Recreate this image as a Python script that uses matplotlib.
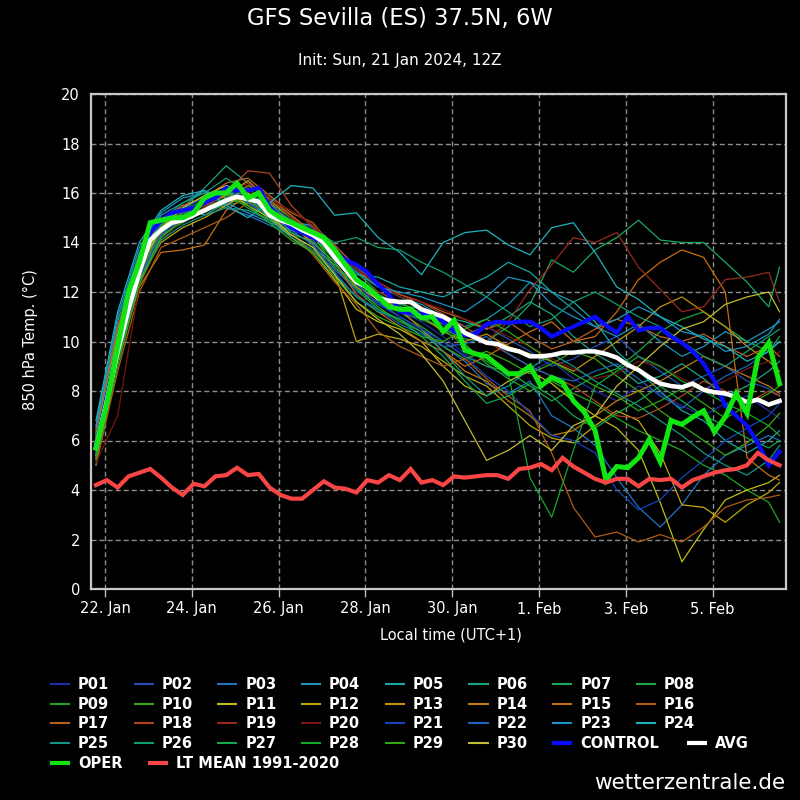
import matplotlib
matplotlib.use("Agg")
import matplotlib.pyplot as plt
from matplotlib.lines import Line2D

# ---------------- data ----------------
lead_hours = list(range(6, 385, 6))              # main series, 6-hourly
pert_hours = list(range(6, 379, 12)) + [384]     # perturbations, 12-hourly

tick_days = [0, 2, 4, 6, 8, 10, 12, 14]
tick_labels = ["22. Jan", "24. Jan", "26. Jan", "28. Jan", "30. Jan", "1. Feb", "3. Feb", "5. Feb"]

control = [5.8, 7.8, 9.8, 11.6, 13.0, 14.4, 14.9, 15.2,
           15.3, 15.4, 15.6, 15.8, 16.2, 16.1, 16.1, 16.2,
           15.45, 15.0, 14.6, 14.4, 14.2, 14.0, 13.6, 13.3,
           13.1, 12.8, 12.3, 11.9, 11.2, 11.15, 11.1, 11.15,
           10.8, 10.4, 10.25, 10.3, 10.7, 10.8, 10.75, 10.8,
           10.8, 10.55, 10.2, 10.4, 10.6, 10.8, 11.0, 10.65,
           10.35, 11.0, 10.45, 10.55, 10.55, 10.2, 9.95, 9.6,
           9.1, 8.4, 7.4, 7.0, 6.6, 5.9, 5.0, 5.55]

avg = [5.7, 7.6, 9.6, 11.3, 12.8, 14.1, 14.5, 14.8,
       14.9, 15.1, 15.3, 15.5, 15.7, 15.85, 15.75, 15.65,
       15.1, 14.9, 14.75, 14.5, 14.3, 14.0, 13.4, 12.9,
       12.4, 12.2, 11.75, 11.65, 11.6, 11.6, 11.3, 11.15,
       11.0, 10.75, 10.35, 10.15, 9.95, 9.9, 9.7, 9.6,
       9.4, 9.4, 9.45, 9.55, 9.55, 9.6, 9.6, 9.5,
       9.35, 9.05, 8.85, 8.55, 8.3, 8.2, 8.15, 8.3,
       8.05, 7.95, 7.9, 7.75, 7.55, 7.65, 7.45, 7.6]

oper = [5.7, 7.5, 9.8, 12.0, 13.2, 14.8, 14.9, 15.0,
        15.0, 15.2, 15.8, 16.0, 16.0, 16.4, 15.8, 16.0,
        15.3, 15.0, 14.8, 14.6, 14.4, 14.2, 13.7, 13.1,
        12.5, 12.2, 11.8, 11.4, 11.3, 11.3, 10.95, 11.0,
        10.4, 10.85, 9.65, 9.5, 9.4, 9.05, 8.7, 8.7,
        9.0, 8.2, 8.55, 8.35, 7.6, 7.15, 6.4, 4.4,
        4.95, 4.9, 5.3, 6.05, 5.15, 6.8, 6.65, 6.95,
        7.2, 6.35, 6.95, 7.9, 7.1, 9.35, 9.95, 8.3]

lt_mean = [4.2, 4.4, 4.1, 4.55, 4.7, 4.85, 4.5, 4.1,
           3.8, 4.25, 4.15, 4.55, 4.6, 4.9, 4.6, 4.65,
           4.1, 3.8, 3.65, 3.65, 4.0, 4.35, 4.1, 4.05,
           3.9, 4.4, 4.3, 4.6, 4.4, 4.85, 4.3, 4.4,
           4.2, 4.55, 4.5, 4.55, 4.6, 4.6, 4.45, 4.85,
           4.9, 5.05, 4.8, 5.3, 4.95, 4.7, 4.45, 4.3,
           4.45, 4.45, 4.15, 4.45, 4.4, 4.45, 4.1, 4.4,
           4.55, 4.7, 4.8, 4.85, 5.0, 5.5, 5.2, 5.0]

p01 = [5.9, 10.0, 13.0, 14.6, 15.2, 15.5, 15.9, 15.6, 15.0, 14.4, 14.0, 13.0, 12.0, 11.5, 11.2, 10.8, 10.2, 9.5, 9.0, 8.6, 8.8, 9.2, 8.5, 8.0, 7.6, 8.2, 7.9, 7.4, 7.0, 7.5, 7.8, 7.2, 6.9]
p02 = [6.2, 10.4, 13.4, 15.0, 15.3, 15.9, 16.3, 15.9, 15.4, 14.9, 14.6, 13.8, 12.6, 11.9, 11.4, 11.2, 10.8, 10.3, 10.6, 10.1, 9.6, 9.0, 9.3, 9.8, 10.2, 9.4, 8.8, 8.2, 8.6, 9.0, 8.4, 8.1, 7.8]
p03 = [5.5, 9.5, 12.6, 14.2, 15.0, 15.7, 15.4, 15.1, 14.7, 14.3, 14.1, 12.9, 12.1, 11.6, 11.0, 10.5, 9.8, 9.2, 8.3, 7.9, 8.4, 7.0, 6.5, 5.8, 4.5, 3.3, 2.5, 3.4, 4.6, 5.4, 5.8, 6.2, 6.0]
p04 = [6.5, 10.8, 13.6, 15.1, 15.6, 16.1, 15.8, 16.2, 15.5, 14.8, 14.7, 13.9, 13.0, 12.3, 11.8, 11.5, 11.0, 10.6, 10.9, 11.5, 12.4, 12.0, 11.3, 10.6, 10.2, 10.7, 10.0, 9.4, 9.8, 10.4, 10.0, 10.5, 10.8]
p05 = [5.8, 9.9, 13.1, 14.7, 15.5, 15.1, 15.6, 15.8, 15.2, 14.6, 14.5, 13.5, 12.7, 12.6, 12.2, 12.0, 11.8, 12.2, 12.6, 13.2, 12.8, 12.0, 11.6, 10.8, 9.6, 8.8, 8.0, 7.2, 6.8, 6.0, 5.5, 6.0, 6.4]
p06 = [5.2, 9.2, 12.9, 14.5, 15.4, 16.2, 17.1, 16.4, 15.6, 15.0, 14.2, 13.5, 12.5, 11.9, 11.5, 11.3, 11.0, 10.8, 10.5, 11.0, 11.6, 11.1, 10.2, 9.5, 9.0, 8.3, 8.6, 9.1, 8.5, 7.8, 8.2, 8.8, 9.2]
p07 = [6.0, 10.2, 13.3, 14.8, 15.4, 15.8, 16.0, 15.4, 14.9, 14.3, 13.8, 13.1, 12.3, 11.7, 11.2, 10.9, 10.5, 10.1, 10.0, 10.6, 11.5, 13.3, 12.8, 13.7, 14.2, 14.9, 14.1, 14.0, 14.0, 13.2, 12.4, 11.4, 13.0]
p08 = [5.0, 9.0, 12.4, 14.3, 14.8, 15.3, 15.5, 15.7, 14.9, 14.6, 14.2, 13.3, 12.4, 11.8, 11.2, 10.6, 10.0, 9.4, 9.0, 8.8, 8.2, 7.6, 8.1, 8.6, 8.9, 9.6, 10.4, 10.9, 11.2, 10.6, 10.0, 9.6, 10.2]
p09 = [5.6, 9.6, 12.7, 14.4, 15.0, 15.4, 15.8, 15.6, 15.3, 14.7, 14.4, 13.6, 12.8, 12.0, 11.6, 11.1, 10.7, 9.9, 9.1, 8.5, 8.0, 8.4, 7.9, 7.5, 6.9, 6.4, 6.0, 5.6, 5.0, 4.6, 4.0, 3.5, 2.7]
p10 = [6.1, 10.1, 13.0, 14.9, 15.1, 15.6, 15.9, 16.0, 15.4, 14.5, 14.3, 13.0, 12.2, 11.4, 10.8, 10.4, 9.8, 9.3, 9.6, 9.2, 8.7, 9.1, 9.6, 9.3, 8.6, 8.0, 7.2, 6.6, 6.0, 5.4, 5.9, 6.6, 7.1]
p11 = [5.4, 9.4, 12.8, 14.6, 15.2, 15.6, 16.1, 15.5, 15.0, 14.2, 13.6, 12.5, 11.3, 10.8, 10.5, 10.0, 9.0, 8.2, 7.8, 8.4, 8.8, 8.3, 7.6, 7.0, 6.5, 5.6, 3.5, 1.1, 2.4, 3.6, 4.0, 4.3, 4.6]
p12 = [5.7, 9.7, 12.5, 14.0, 14.6, 15.0, 15.5, 16.0, 15.2, 14.8, 13.9, 12.8, 10.0, 10.3, 10.1, 9.8, 9.2, 8.6, 8.2, 7.4, 6.6, 6.1, 5.9, 6.6, 7.2, 6.8, 5.5, 3.4, 3.3, 2.7, 3.4, 3.9, 4.3]
p13 = [6.3, 10.5, 13.2, 14.6, 15.1, 15.5, 15.9, 16.5, 15.7, 15.0, 14.3, 13.4, 12.2, 11.7, 11.4, 11.0, 10.4, 10.0, 10.3, 9.8, 9.5, 9.2, 8.8, 9.4, 10.0, 10.6, 11.4, 11.8, 11.2, 10.6, 9.8, 9.2, 8.8]
p14 = [5.9, 9.8, 12.9, 14.4, 15.0, 15.2, 15.7, 16.3, 15.8, 15.1, 14.4, 13.5, 12.6, 11.8, 11.3, 10.5, 9.6, 8.8, 8.4, 7.6, 7.0, 6.2, 6.4, 7.0, 7.6, 8.0, 8.4, 8.9, 9.4, 9.0, 8.6, 8.2, 7.9]
p15 = [5.3, 9.3, 12.2, 13.6, 13.7, 13.9, 15.3, 15.9, 15.6, 14.7, 14.0, 13.2, 11.9, 11.2, 10.6, 10.0, 9.6, 9.0, 9.4, 9.9, 10.4, 10.8, 10.0, 10.2, 11.2, 12.5, 13.2, 13.7, 13.4, 12.0, 5.3, 4.6, 4.4]
p16 = [5.0, 8.8, 12.0, 13.8, 14.2, 14.6, 15.0, 15.6, 15.3, 14.4, 13.5, 12.4, 11.5, 10.4, 9.8, 9.4, 9.0, 9.3, 8.5, 7.8, 7.2, 5.5, 3.3, 2.1, 2.3, 1.9, 2.2, 1.9, 2.5, 3.3, 3.6, 3.7, 3.8]
p17 = [6.4, 10.6, 13.5, 14.9, 15.5, 15.8, 16.4, 16.6, 15.9, 15.2, 14.8, 13.7, 12.9, 12.2, 11.9, 11.6, 11.2, 10.9, 10.5, 10.8, 10.2, 9.7, 10.0, 10.5, 10.9, 10.6, 10.2, 10.0, 10.3, 9.8, 9.4, 9.8, 9.4]
p18 = [5.6, 9.5, 12.7, 14.5, 15.0, 15.4, 16.0, 16.9, 16.8, 15.5, 14.6, 13.9, 13.0, 12.4, 11.9, 11.6, 11.1, 10.6, 10.0, 9.5, 9.0, 8.6, 8.2, 7.6, 7.0, 6.9, 7.3, 7.8, 8.4, 8.0, 7.5, 8.0, 7.8]
p19 = [5.8, 9.7, 12.9, 14.4, 15.3, 15.5, 16.0, 16.4, 15.8, 15.0, 14.4, 13.6, 12.5, 12.0, 11.6, 11.4, 11.0, 10.4, 10.0, 10.8, 12.1, 13.1, 14.2, 14.0, 14.4, 13.0, 12.1, 11.2, 11.4, 12.5, 12.6, 12.8, 11.6]
p20 = [5.1, 7.0, 12.3, 14.1, 14.9, 15.4, 15.6, 16.1, 15.7, 15.3, 14.7, 13.8, 12.9, 12.4, 11.8, 11.6, 11.3, 10.9, 10.6, 10.2, 9.8, 9.3, 8.9, 8.5, 8.7, 9.2, 9.0, 8.5, 8.1, 8.4, 8.9, 9.2, 9.6]
p21 = [6.0, 10.1, 13.1, 14.8, 15.4, 15.8, 16.1, 15.8, 15.3, 14.6, 14.4, 13.4, 12.3, 11.5, 11.0, 10.5, 10.0, 9.4, 8.6, 8.0, 7.1, 6.2, 6.0, 5.5, 4.0, 3.2, 3.6, 4.5, 5.2, 6.0, 6.5, 7.0, 7.5]
p22 = [5.5, 9.4, 12.6, 14.3, 15.1, 15.7, 16.2, 15.6, 15.1, 14.5, 13.9, 12.8, 11.8, 11.3, 10.7, 10.3, 9.8, 9.9, 10.2, 9.5, 9.0, 8.6, 8.4, 8.8, 9.1, 8.5, 7.8, 7.3, 8.0, 8.6, 9.0, 9.6, 10.0]
p23 = [6.6, 11.0, 13.8, 15.2, 15.8, 16.0, 15.6, 15.2, 14.8, 14.5, 14.2, 13.6, 12.8, 12.2, 12.0, 11.8, 11.5, 11.2, 11.8, 12.6, 12.4, 11.5, 11.0, 10.6, 10.9, 11.4, 11.0, 10.4, 10.2, 9.6, 9.8, 10.3, 10.9]
p24 = [6.8, 11.2, 14.0, 15.3, 15.9, 16.1, 15.5, 15.0, 15.6, 16.3, 16.2, 15.1, 15.2, 14.2, 13.6, 12.7, 14.0, 14.4, 14.5, 13.9, 13.5, 14.6, 14.8, 13.6, 12.2, 11.7, 11.0, 10.6, 10.1, 9.8, 9.2, 9.6, 10.0]
p25 = [5.4, 9.3, 12.4, 14.1, 14.7, 15.1, 15.4, 15.3, 14.9, 14.2, 13.7, 12.7, 11.8, 11.2, 10.9, 10.4, 9.6, 8.6, 7.8, 8.2, 8.9, 9.5, 9.0, 8.4, 7.9, 7.4, 6.8, 6.2, 5.5, 5.0, 4.6, 5.2, 5.8]
p26 = [6.2, 10.3, 13.3, 14.9, 15.6, 16.0, 16.6, 16.0, 15.5, 14.9, 14.5, 14.0, 14.2, 13.8, 13.7, 13.2, 12.8, 12.3, 11.8, 11.2, 10.6, 10.9, 11.6, 12.0, 11.5, 11.0, 10.6, 10.0, 9.4, 9.0, 9.6, 10.2, 10.5]
p27 = [5.7, 9.8, 12.8, 14.5, 15.2, 15.6, 16.0, 15.8, 15.0, 14.4, 14.0, 13.2, 12.1, 11.3, 10.9, 10.2, 9.4, 8.4, 7.5, 7.8, 8.3, 7.8, 7.0, 6.5, 7.1, 7.6, 8.2, 7.6, 7.0, 6.6, 6.1, 5.7, 6.0]
p28 = [5.9, 10.0, 13.0, 14.7, 15.3, 15.7, 16.2, 15.9, 15.4, 14.7, 14.2, 13.4, 12.4, 11.9, 11.4, 11.0, 10.5, 9.8, 9.2, 8.7, 4.5, 2.9, 5.6, 8.2, 8.8, 9.4, 9.0, 8.4, 8.0, 7.5, 7.1, 6.6, 6.2]
p29 = [5.3, 9.2, 12.3, 14.2, 14.9, 15.3, 15.8, 15.5, 14.8, 14.1, 13.6, 12.6, 11.6, 11.0, 10.6, 10.2, 10.0, 10.5, 10.9, 10.4, 9.8, 9.2, 8.7, 8.2, 7.8, 7.2, 7.6, 8.1, 7.5, 6.9, 7.4, 7.9, 8.2]
p30 = [6.1, 10.2, 13.0, 14.6, 15.4, 15.9, 16.3, 16.0, 15.1, 14.3, 13.8, 12.7, 11.6, 10.9, 10.3, 9.5, 8.4, 6.8, 5.2, 5.6, 6.2, 5.6, 6.6, 7.0, 8.2, 9.0, 9.8, 10.5, 10.8, 11.5, 11.8, 12.0, 11.2]

member_names = ["P%02d" % n for n in range(1, 31)]
member_colors = ["#1e2ea8", "#2050b8", "#2074c4", "#1c94b8", "#18a6a6", "#18a684",
                 "#18aa62", "#1aa640", "#22a622", "#36a812", "#c0bc10", "#c0a810",
                 "#c09210", "#c07e10", "#c86e10", "#b05c12", "#b86222", "#b04422",
                 "#982a1c", "#781612", "#1444bc", "#1a64bc", "#1a94c8", "#1cb2bc",
                 "#129684", "#129c6c", "#12a84c", "#12a82c", "#2ca812", "#c0bc30"]

# ---------------- figure ----------------
def fx(px):
    return px / 800.0

def fy(py):
    return 1.0 - py / 800.0

fig = plt.figure(figsize=(8, 8), dpi=100, facecolor="black")
ax = fig.add_axes([fx(91), fy(589), fx(786) - fx(91), fy(94) - fy(589)], facecolor="black")

main_x = [(h - 11) / 24.0 for h in lead_hours]
pert_x = [(h - 11) / 24.0 for h in pert_hours]

members = [p01, p02, p03, p04, p05, p06, p07, p08, p09, p10,
           p11, p12, p13, p14, p15, p16, p17, p18, p19, p20,
           p21, p22, p23, p24, p25, p26, p27, p28, p29, p30]

for vals, col in zip(members, member_colors):
    ax.plot(pert_x, vals, color=col, lw=0.9, zorder=2)

ax.plot(main_x, control, color="#0a0aff", lw=3.0, zorder=3, solid_joinstyle="miter")
ax.plot(main_x, avg, color="white", lw=3.2, zorder=4, solid_joinstyle="miter")
ax.plot(main_x, oper, color="#12e612", lw=3.6, zorder=5, solid_joinstyle="miter")
ax.plot(main_x, lt_mean, color="#f84646", lw=3.0, zorder=6, solid_joinstyle="miter")

ax.set_xlim(-0.3225, 15.69)
ax.set_ylim(0, 20)
ax.set_xticks(tick_days)
ax.set_xticklabels(tick_labels)
ax.set_yticks(range(0, 21, 2))
ax.grid(True, color="#8c8c8c", linestyle=(0, (3.6, 2.2)), linewidth=1.0, zorder=1)
ax.set_axisbelow(True)
for s in ax.spines.values():
    s.set_color("#c8c8c8")
    s.set_linewidth(1.6)
ax.tick_params(axis="x", colors="white", color="#b4c0d4", length=6, width=1,
               labelsize=10.5, pad=3)
ax.tick_params(axis="y", colors="white", length=0, labelsize=10.5, pad=8)

# titles and labels
fig.text(0.5, fy(19), "GFS Sevilla (ES) 37.5N, 6W", color="white", fontsize=16.3,
         ha="center", va="center")
fig.text(0.5, fy(61), "Init: Sun, 21 Jan 2024, 12Z", color="white", fontsize=11,
         ha="center", va="center")
fig.text(fx(30), fy(340), "850 hPa Temp. (°C)", color="white", fontsize=10.5,
         rotation=90, ha="center", va="center")
fig.text(fx(451), fy(635), "Local time (UTC+1)", color="white", fontsize=10.5,
         ha="center", va="center")
fig.text(fx(785), fy(783), "wetterzentrale.de", color="white", fontsize=15.5,
         ha="right", va="center")

# legend (row-wise flow, drawn manually)
row_y = [684, 703.5, 723, 743, 763]
col_x = [50 + 83.7 * c for c in range(8)]

def legend_entry(x0, y0, label, color, lw):
    fig.add_artist(Line2D([fx(x0), fx(x0 + 20)], [fy(y0), fy(y0)], color=color, lw=lw,
                          transform=fig.transFigure, solid_capstyle="butt"))
    fig.text(fx(x0 + 28), fy(y0 + 5.2), label, color="white", fontsize=10.5,
             fontweight="bold", ha="left", va="baseline")

for n, (name, col) in enumerate(zip(member_names, member_colors)):
    legend_entry(col_x[n % 8], row_y[n // 8], name, col, 1.5)
legend_entry(col_x[6], row_y[3], "CONTROL", "#0a0aff", 3.0)
legend_entry(687, row_y[3], "AVG", "white", 3.0)
legend_entry(50, row_y[4], "OPER", "#12e612", 3.0)
legend_entry(148, row_y[4], "LT MEAN 1991-2020", "#f84646", 3.0)

fig.savefig("out.png", dpi=100, facecolor="black")
